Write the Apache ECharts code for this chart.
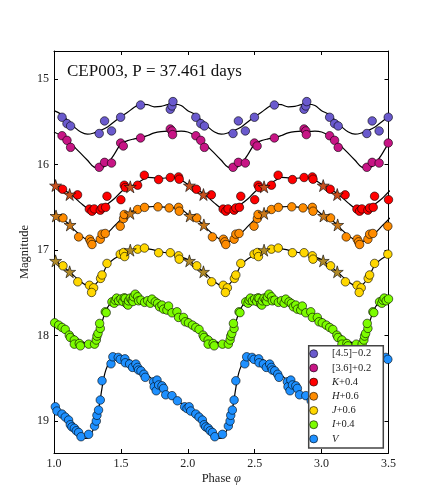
<!DOCTYPE html>
<html><head><meta charset="utf-8">
<script src="https://cdn.jsdelivr.net/npm/echarts@6/dist/echarts.min.js"></script>
<style>html,body{margin:0;padding:0;background:#fff}#c{width:432px;height:504px}</style>
</head><body><div id="c"></div>
<script>
// ---- data (phase fraction within one cycle, magnitude) ----
const xTicks = [1.0, 1.5, 2.0, 2.5, 3.0, 3.5];
const yTicks = [15, 16, 17, 18, 19];
const cycles = [1, 2, 3];
const bandNames = ['[4.5]−0.2', '[3.6]+0.2', 'K+0.4', 'H+0.6', 'J+0.6', 'I+0.4', 'V'];
const bandColors = ['#6a5acd', '#c71585', '#ff0000', '#ff8c00', '#ffd700', '#7cfc00', '#1e90ff'];
const starColors = ['#c8501e', '#c8781a', '#b08a28'];

const pts45 = [[0.060,15.447],[0.097,15.521],[0.124,15.549],[0.338,15.637],[0.378,15.490],[0.430,15.607],[0.498,15.447],[0.647,15.304],[0.869,15.354],[0.882,15.315],[0.889,15.264]];
const pts36 = [[0.060,15.663],[0.097,15.717],[0.124,15.799],[0.338,16.032],[0.378,15.974],[0.430,15.982],[0.498,15.748],[0.518,15.783],[0.647,15.689],[0.869,15.584],[0.882,15.607],[0.886,15.650]];
const ptsK = [[0.064,16.288],[0.176,16.354],[0.264,16.520],[0.284,16.545],[0.301,16.518],[0.346,16.533],[0.359,16.506],[0.386,16.500],[0.396,16.370],[0.500,16.410],[0.525,16.241],[0.533,16.268],[0.625,16.241],[0.675,16.124],[0.782,16.175],[0.869,16.151],[0.931,16.144],[0.936,16.171]];
const ptsH = [[0.067,16.623],[0.184,16.845],[0.266,16.872],[0.276,16.903],[0.284,16.934],[0.346,16.872],[0.359,16.813],[0.383,16.805],[0.495,16.720],[0.520,16.630],[0.525,16.583],[0.625,16.525],[0.677,16.500],[0.777,16.494],[0.861,16.506],[0.931,16.500],[0.936,16.545]];
const ptsJ = [[0.067,17.183],[0.178,17.370],[0.265,17.410],[0.296,17.440],[0.281,17.494],[0.348,17.330],[0.359,17.290],[0.396,17.155],[0.495,17.047],[0.520,17.027],[0.528,17.075],[0.625,16.988],[0.676,16.975],[0.782,17.030],[0.869,17.030],[0.931,17.066],[0.936,17.105]];
const ptsI = [[0.005,17.849],[0.035,17.876],[0.060,17.903],[0.084,17.926],[0.114,17.993],[0.122,18.020],[0.152,18.050],[0.152,18.098],[0.189,18.090],[0.197,18.118],[0.259,18.098],[0.303,18.098],[0.316,18.050],[0.321,18.004],[0.329,17.973],[0.346,17.914],[0.341,17.856],[0.383,17.720],[0.390,17.730],[0.433,17.604],[0.450,17.620],[0.458,17.584],[0.468,17.560],[0.483,17.592],[0.500,17.570],[0.515,17.600],[0.525,17.557],[0.533,17.564],[0.545,17.630],[0.553,17.642],[0.557,17.592],[0.570,17.560],[0.583,17.584],[0.590,17.600],[0.595,17.545],[0.607,17.514],[0.625,17.545],[0.632,17.592],[0.650,17.584],[0.677,17.610],[0.700,17.590],[0.720,17.620],[0.732,17.572],[0.757,17.604],[0.774,17.622],[0.789,17.662],[0.807,17.642],[0.819,17.689],[0.844,17.700],[0.856,17.653],[0.882,17.732],[0.919,17.720],[0.931,17.786],[0.968,17.786],[0.981,17.837]];
const ptsV = [[0.010,18.830],[0.022,18.880],[0.060,18.915],[0.084,18.950],[0.109,18.985],[0.122,19.040],[0.134,19.065],[0.152,19.080],[0.167,19.110],[0.184,19.130],[0.202,19.180],[0.259,19.152],[0.303,19.055],[0.316,18.997],[0.321,18.930],[0.333,18.868],[0.346,18.751],[0.359,18.526],[0.426,18.328],[0.440,18.246],[0.480,18.253],[0.495,18.276],[0.530,18.270],[0.533,18.316],[0.565,18.330],[0.587,18.370],[0.612,18.331],[0.625,18.370],[0.632,18.401],[0.650,18.410],[0.672,18.450],[0.682,18.486],[0.744,18.538],[0.749,18.596],[0.764,18.643],[0.770,18.518],[0.782,18.575],[0.807,18.585],[0.819,18.615],[0.835,18.690],[0.882,18.700],[0.922,18.760],[0.976,18.830],[0.994,18.850]];

const starsK = [[0.012,16.245],[0.117,16.350],[0.570,16.260]];
const starsH = [[0.015,16.600],[0.120,16.705],[0.570,16.570]];
const starsJ = [[0.012,17.125],[0.117,17.253],[0.570,17.000]];

const fit45 = [[0,15.37],[0.05,15.41],[0.10,15.48],[0.15,15.56],[0.20,15.62],[0.25,15.645],[0.30,15.63],[0.35,15.60],[0.40,15.56],[0.45,15.50],[0.50,15.44],[0.55,15.39],[0.60,15.33],[0.65,15.295],[0.70,15.30],[0.75,15.325],[0.80,15.32],[0.85,15.30],[0.90,15.295],[0.95,15.31]];
const fit36 = [[0,15.62],[0.05,15.66],[0.10,15.72],[0.15,15.79],[0.20,15.87],[0.25,15.95],[0.30,16.03],[0.35,16.04],[0.40,15.99],[0.45,15.88],[0.50,15.76],[0.55,15.72],[0.60,15.70],[0.65,15.685],[0.70,15.66],[0.75,15.63],[0.80,15.615],[0.85,15.61],[0.90,15.615],[0.95,15.61]];
const fitK = [[0,16.23],[0.05,16.27],[0.10,16.32],[0.15,16.38],[0.20,16.45],[0.25,16.51],[0.30,16.53],[0.35,16.51],[0.40,16.46],[0.45,16.40],[0.50,16.32],[0.55,16.26],[0.60,16.235],[0.65,16.19],[0.70,16.15],[0.75,16.155],[0.80,16.16],[0.85,16.155],[0.90,16.15],[0.95,16.18]];
const fitH = [[0,16.58],[0.05,16.62],[0.10,16.68],[0.15,16.76],[0.20,16.83],[0.25,16.88],[0.30,16.90],[0.35,16.87],[0.40,16.80],[0.45,16.72],[0.50,16.64],[0.55,16.57],[0.60,16.535],[0.65,16.51],[0.70,16.495],[0.75,16.49],[0.80,16.495],[0.85,16.50],[0.90,16.505],[0.95,16.52]];
const fitJ = [[0,17.11],[0.05,17.17],[0.10,17.23],[0.15,17.30],[0.20,17.37],[0.25,17.42],[0.28,17.44],[0.31,17.40],[0.35,17.32],[0.40,17.17],[0.45,17.10],[0.50,17.055],[0.55,17.02],[0.60,17.0],[0.65,16.985],[0.70,16.985],[0.75,17.0],[0.80,17.02],[0.85,17.035],[0.90,17.055],[0.95,17.08]];
const fitI = [[0,17.80],[0.05,17.86],[0.10,17.93],[0.15,18.00],[0.20,18.06],[0.25,18.09],[0.30,18.08],[0.33,17.98],[0.35,17.89],[0.375,17.76],[0.40,17.67],[0.425,17.62],[0.45,17.60],[0.50,17.59],[0.55,17.57],[0.60,17.55],[0.65,17.56],[0.70,17.60],[0.75,17.63],[0.80,17.66],[0.85,17.69],[0.90,17.72],[0.95,17.76]];
const fitV = [[0,18.83],[0.05,18.89],[0.10,18.97],[0.15,19.07],[0.20,19.17],[0.235,19.20],[0.26,19.19],[0.28,19.14],[0.30,19.07],[0.32,18.96],[0.34,18.80],[0.36,18.60],[0.38,18.44],[0.40,18.35],[0.43,18.27],[0.47,18.24],[0.50,18.245],[0.55,18.27],[0.60,18.32],[0.65,18.39],[0.70,18.46],[0.75,18.53],[0.80,18.60],[0.85,18.67],[0.90,18.73],[0.95,18.79]];

const bandPts = [pts45, pts36, ptsK, ptsH, ptsJ, ptsI, ptsV];
const bandFits = [fit45, fit36, fitK, fitH, fitJ, fitI, fitV];
const bandStars = [null, null, starsK, starsH, starsJ, null, null];

// ---- build ----
function unfold(arr) {
  const out = [];
  for (const n of cycles) for (const [p, m] of arr) {
    const x = p + n;
    if (x >= 1 && x <= 3.56) out.push([x, m]);
  }
  return out;
}
const STAR = 'path://M0,-1L0.2245,-0.309L0.951,-0.309L0.363,0.118L0.588,0.809L0,0.382L-0.588,0.809L-0.363,0.118L-0.951,-0.309L-0.2245,-0.309Z';
const FONT = '"Liberation Serif", "DejaVu Serif", serif';

const series = [];
bandFits.forEach((f, i) => series.push({
  type: 'line', data: unfold(f), smooth: 0.35, showSymbol: false, symbol: 'none',
  lineStyle: { color: '#000', width: 1.2 }, z: 2, silent: true, legendHoverLink: false
}));
bandPts.forEach((p, i) => series.push({
  type: 'scatter', name: bandNames[i], data: unfold(p), symbol: 'circle', symbolSize: 8.5,
  itemStyle: { color: bandColors[i], borderColor: '#000', borderWidth: 0.6, opacity: 1 }, z: 3
}));
let si = 0;
bandStars.forEach((s, i) => { if (!s) return; series.push({
  type: 'scatter', data: unfold(s), symbol: STAR, symbolSize: 12,
  itemStyle: { color: starColors[si++], borderColor: '#000', borderWidth: 0.6, opacity: 1 }, z: 4
}); });

const italicLetters = { 'K+0.4': 'K', 'H+0.6': 'H', 'J+0.6': 'J', 'I+0.4': 'I', 'V': 'V' };

const chart = echarts.init(document.getElementById('c'), null, { renderer: 'canvas' });
chart.setOption({
  animation: false,
  backgroundColor: '#fff',
  title: {
    text: 'CEP003, P = 37.461 days', left: 67, top: 63, padding: 0,
    textStyle: { fontFamily: FONT, fontSize: 17, fontWeight: 'normal', color: '#111' }
  },
  grid: { left: 54, top: 51, width: 334.5, height: 402, containLabel: false },
  xAxis: [{
    type: 'value', min: 1, max: 3.5, interval: 0.5, position: 'bottom',
    axisLine: { show: true, lineStyle: { color: '#000', width: 1 } },
    axisTick: { show: true, inside: true, length: 4, lineStyle: { color: '#000' } },
    splitLine: { show: false },
    axisLabel: { margin: 5, formatter: v => v.toFixed(1), fontFamily: FONT, fontSize: 12, color: '#222' },
    name: 'Phase {i|φ}', nameLocation: 'middle', nameGap: 19, nameMoveOverlap: false,
    nameTextStyle: { fontFamily: FONT, fontSize: 12.5, color: '#222', rich: { i: { fontStyle: 'italic', fontFamily: FONT, fontSize: 12.5, color: '#222' } } }
  }, {
    type: 'value', min: 1, max: 3.5, interval: 0.5, position: 'top',
    axisLine: { show: true, lineStyle: { color: '#000', width: 1 } },
    axisTick: { show: true, inside: true, length: 4, lineStyle: { color: '#000' } },
    splitLine: { show: false }, axisLabel: { show: false }
  }],
  yAxis: [{
    type: 'value', inverse: true, min: 14.673, max: 19.37, position: 'left',
    axisLine: { show: true, lineStyle: { color: '#000', width: 1 } },
    axisTick: { show: true, inside: true, length: 4, customValues: yTicks, lineStyle: { color: '#000' } },
    splitLine: { show: false },
    axisLabel: { margin: 5, customValues: yTicks, fontFamily: FONT, fontSize: 12, color: '#222' },
    name: 'Magnitude', nameLocation: 'middle', nameGap: 23, nameMoveOverlap: false,
    nameTextStyle: { fontFamily: FONT, fontSize: 12.5, color: '#222' }
  }, {
    type: 'value', inverse: true, min: 14.673, max: 19.37, position: 'right',
    axisLine: { show: true, lineStyle: { color: '#000', width: 1 } },
    axisTick: { show: true, inside: true, length: 4, customValues: yTicks, lineStyle: { color: '#000' } },
    splitLine: { show: false }, axisLabel: { show: false }
  }],
  legend: {
    data: bandNames, orient: 'vertical', left: 309.4, top: 347.7, padding: 0,
    itemWidth: 26.6, itemHeight: 8, itemGap: 2.2, z: 60, selectedMode: false,
    itemStyle: { borderColor: '#000', borderWidth: 0.6 },
    formatter: name => italicLetters[name] ? '{i|' + italicLetters[name] + '}' + name.slice(1) : name,
    textStyle: { fontFamily: FONT, fontSize: 10.5, lineHeight: 12, color: '#222',
      rich: { i: { fontStyle: 'italic', fontFamily: FONT, fontSize: 10.5, lineHeight: 12, color: '#222' } } }
  },
  graphic: { elements: [{
    type: 'rect', z: 50, shape: { x: 308.7, y: 345.7, width: 74.6, height: 102.3 },
    style: { fill: '#fff', stroke: '#444', lineWidth: 1.5 }
  }] },
  series
});
</script></body></html>
